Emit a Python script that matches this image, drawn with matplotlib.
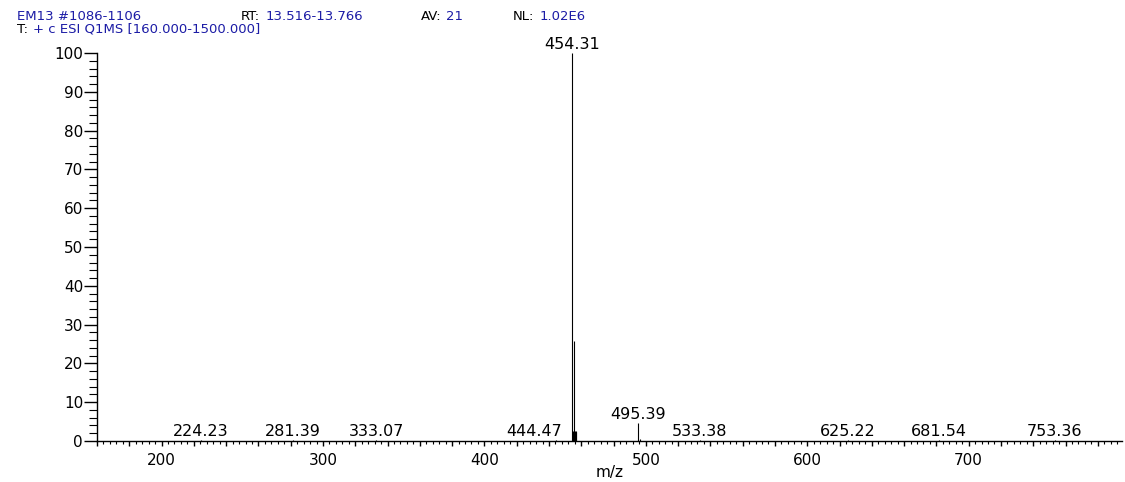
import matplotlib
matplotlib.use("Agg")
import matplotlib.pyplot as plt
from matplotlib.ticker import MultipleLocator, FuncFormatter
from matplotlib.transforms import IdentityTransform

# peaks (m/z, relative abundance)
mz = [224.23, 281.39, 333.07, 444.47, 454.31, 454.8, 455.3, 455.7, 456.1, 456.5, 456.9,
      495.39, 496.4, 533.38, 625.22, 681.54, 753.36]
intensity = [0.2, 0.2, 0.2, 0.3, 100, 2.6, 25.8, 2.6, 2.6, 2.6, 2.4,
             4.6, 0.6, 0.2, 0.2, 0.2, 0.2]

# labelled peaks
labelled = [224.23, 281.39, 333.07, 444.47, 454.31, 495.39, 533.38, 625.22, 681.54, 753.36]

blue = "#1c1ca6"
header1 = [[("EM13 #1086-1106", blue)],
           [("RT:", "black"), ("13.516-13.766", blue)],
           [("AV:", "black"), ("21", blue)],
           [("NL:", "black"), ("1.02E6", blue)]]
header1_pos = [("left", 17), ("center", 302), ("center", 442), ("center", 549)]
header2 = [("T:", "black"), ("+ c ESI Q1MS [160.000-1500.000]", blue)]

plt.rcParams['font.family'] = ['DejaVu Sans']

W, H = 1125, 482
fig = plt.figure(figsize=(W / 100, H / 100), dpi=100)
ax = fig.add_axes([97 / W, (H - 441) / H, (1122 - 97) / W, (441 - 53) / H])

ax.vlines(mz, 0, intensity, color="black", linewidth=0.8)

lookup = dict(zip(mz, intensity))
for m in labelled:
    if m == 444.47:
        # label pushed left, away from the base peak
        ax.annotate(f"{m:.2f}", (m, lookup[m]), xytext=(4, 3), textcoords="offset points",
                    ha="right", va="baseline", fontsize=11.5, annotation_clip=False)
    else:
        ax.annotate(f"{m:.2f}", (m, lookup[m]), xytext=(0, 3), textcoords="offset points",
                    ha="center", va="baseline", fontsize=11.5, annotation_clip=False)

ax.set_xlim(160, 795)
ax.set_ylim(0, 100)
for s in ["top", "right"]:
    ax.spines[s].set_visible(False)
for s in ["left", "bottom"]:
    ax.spines[s].set_linewidth(1.0)

ax.xaxis.set_major_locator(MultipleLocator(20))
ax.xaxis.set_minor_locator(MultipleLocator(4))
ax.xaxis.set_major_formatter(FuncFormatter(lambda v, p: f"{v:.0f}" if round(v) % 100 == 0 else ""))
ax.yaxis.set_major_locator(MultipleLocator(10))
ax.yaxis.set_minor_locator(MultipleLocator(2))

ax.tick_params(axis="x", which="major", direction="out", length=3.6, width=1.0, pad=5, labelsize=11)
ax.tick_params(axis="x", which="minor", direction="out", length=1.8, width=0.8)
ax.tick_params(axis="y", which="major", direction="out", length=9.5, width=1.0, pad=0.5, labelsize=11)
ax.tick_params(axis="y", which="minor", direction="out", length=6, width=0.8)

ax.set_xlabel("m/z", fontsize=11, labelpad=-2)

# header text, pieces placed in pixel coordinates
renderer = fig.canvas.get_renderer()
gap = 5


def place(pieces, align, x, y):
    texts = [fig.text(0, 0, s, color=c, fontsize=9.5, transform=IdentityTransform()) for s, c in pieces]
    widths = [t.get_window_extent(renderer).width for t in texts]
    total = sum(widths) + gap * (len(texts) - 1)
    cur = x if align == "left" else x - total / 2
    for t, w in zip(texts, widths):
        t.set_position((cur, H - y))
        cur += w + gap


for pieces, (align, x) in zip(header1, header1_pos):
    place(pieces, align, x, 20)
place(header2, "left", 17, 33)

fig.savefig("out.png", dpi=100)
